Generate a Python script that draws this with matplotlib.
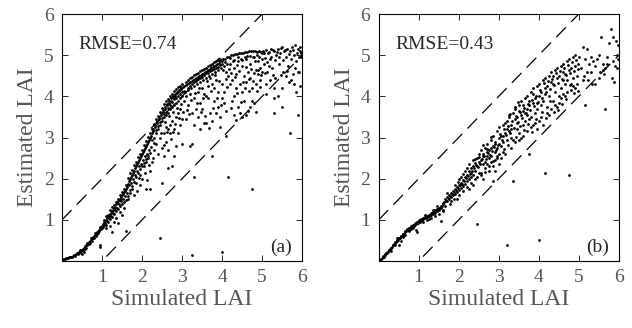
import numpy as np
import matplotlib
matplotlib.use("Agg")
import matplotlib.pyplot as plt

plt.rcParams['font.family'] = ['Liberation Serif', 'DejaVu Serif']

# panel (a): simulated vs estimated LAI
pts_a = [
    (0.02, 0.05), (0.05, 0.06), (0.08, 0.06), (0.1, 0.07), (0.13, 0.08), (0.15, 0.08), (0.18, 0.09),
    (0.2, 0.1), (0.22, 0.1), (0.25, 0.11), (0.28, 0.13), (0.3, 0.14), (0.32, 0.15), (0.35, 0.17),
    (0.38, 0.19), (0.4, 0.2), (0.42, 0.22), (0.45, 0.24), (0.47, 0.2), (0.48, 0.26), (0.5, 0.28),
    (0.52, 0.3), (0.55, 0.33), (0.57, 0.3), (0.58, 0.36), (0.6, 0.38), (0.62, 0.4), (0.65, 0.44),
    (0.67, 0.41), (0.68, 0.47), (0.7, 0.5), (0.72, 0.52), (0.74, 0.48), (0.75, 0.56), (0.77, 0.58),
    (0.78, 0.55), (0.8, 0.62), (0.82, 0.64), (0.84, 0.6), (0.85, 0.68), (0.87, 0.7), (0.88, 0.66),
    (0.9, 0.74), (0.92, 0.76), (0.93, 0.72), (0.95, 0.8), (0.97, 0.82), (0.98, 0.78), (1.0, 0.86),
    (0.96, 0.4), (0.95, 0.35),
    (1.02, 0.9), (1.04, 0.88), (1.05, 0.95), (1.07, 0.97), (1.08, 0.92), (1.1, 1.0), (1.12, 1.04),
    (1.13, 0.98), (1.15, 1.08), (1.17, 1.1), (1.18, 1.05), (1.2, 1.15), (1.22, 1.18), (1.23, 1.1),
    (1.25, 1.22), (1.27, 1.25), (1.28, 1.18), (1.3, 1.3), (1.32, 1.32), (1.33, 1.25), (1.35, 1.38),
    (1.37, 1.4), (1.38, 1.3), (1.4, 1.45), (1.42, 1.48), (1.43, 1.38), (1.45, 1.52), (1.47, 1.55),
    (1.48, 1.45), (1.5, 1.6), (1.52, 1.63), (1.53, 1.5), (1.55, 1.68), (1.57, 1.7), (1.58, 1.58),
    (1.6, 1.75), (1.62, 1.8), (1.63, 1.65), (1.25, 0.7), (1.6, 0.72), (1.3, 0.95), (1.45, 1.2),
    (1.55, 1.3), (1.2, 0.85), (1.1, 0.8), (1.65, 1.5),
    (1.65, 1.88), (1.67, 1.95), (1.68, 1.85), (1.7, 2.0), (1.72, 2.05), (1.73, 1.9), (1.75, 2.1),
    (1.77, 2.15), (1.78, 2.0), (1.8, 2.2), (1.82, 2.25), (1.83, 2.1), (1.85, 2.3), (1.87, 2.35),
    (1.88, 2.2), (1.9, 2.4), (1.92, 2.45), (1.93, 2.3), (1.95, 2.5), (1.97, 2.55), (1.98, 2.35),
    (2.0, 2.6), (2.02, 2.65), (2.03, 2.45), (2.05, 2.7), (2.07, 2.75), (2.08, 2.55), (2.1, 2.8),
    (2.12, 2.85), (2.13, 2.6), (2.15, 2.9), (2.17, 2.95), (2.18, 2.7), (2.2, 3.0), (1.75, 1.75),
    (1.85, 1.9), (1.95, 2.1), (2.05, 2.3), (2.1, 2.4), (2.15, 2.5), (1.8, 1.6), (2.0, 2.0),
    (1.95, 1.85), (2.1, 1.75), (2.2, 1.75), (2.2, 2.2), (2.25, 2.4), (1.7, 1.65),
    (2.22, 3.05), (2.24, 3.1), (2.25, 2.95), (2.27, 3.15), (2.28, 3.2), (2.3, 3.0), (2.32, 3.25),
    (2.33, 3.3), (2.35, 3.1), (2.37, 3.35), (2.38, 3.4), (2.4, 3.2), (2.42, 3.45), (2.43, 3.5),
    (2.45, 3.3), (2.47, 3.55), (2.48, 3.6), (2.5, 3.4), (2.52, 3.62), (2.53, 3.68), (2.55, 3.5),
    (2.57, 3.7), (2.58, 3.75), (2.6, 3.55), (2.62, 3.78), (2.63, 3.82), (2.65, 3.6), (2.67, 3.85),
    (2.68, 3.88), (2.7, 3.7), (2.72, 3.9), (2.73, 3.95), (2.75, 3.75), (2.77, 3.98), (2.78, 4.0),
    (2.8, 3.8), (2.82, 4.02), (2.83, 4.05), (2.85, 3.85), (2.87, 4.08), (2.88, 4.1), (2.9, 3.9),
    (2.92, 4.12), (2.93, 4.15), (2.95, 3.95), (2.97, 4.18), (2.98, 4.2), (3.0, 4.0),
    (2.3, 2.7), (2.35, 2.85), (2.4, 2.6), (2.45, 3.0), (2.5, 2.75), (2.5, 1.9), (2.55, 3.1),
    (2.6, 2.9), (2.65, 3.2), (2.7, 3.1), (2.7, 3.3), (2.75, 2.3), (2.75, 3.4), (2.8, 2.55),
    (2.8, 3.2), (2.85, 3.5), (2.9, 3.1), (2.9, 3.6), (2.95, 3.3), (2.95, 3.7), (3.0, 3.45),
    (3.0, 2.85), (2.6, 3.25), (2.55, 2.55), (2.65, 2.25), (2.85, 2.8),
    (3.02, 4.22), (3.05, 4.25), (3.07, 4.1), (3.1, 4.28), (3.12, 4.3), (3.15, 4.15), (3.17, 4.32),
    (3.2, 4.35), (3.22, 4.2), (3.25, 4.38), (3.27, 4.4), (3.3, 4.25), (3.32, 4.42), (3.35, 4.45),
    (3.37, 4.3), (3.4, 4.48), (3.42, 4.5), (3.45, 4.35), (3.47, 4.52), (3.5, 4.55), (3.52, 4.4),
    (3.55, 4.58), (3.57, 4.6), (3.6, 4.45), (3.62, 4.62), (3.65, 4.65), (3.67, 4.5), (3.7, 4.67),
    (3.72, 4.7), (3.75, 4.55), (3.77, 4.72), (3.8, 4.75), (3.82, 4.6), (3.85, 4.77), (3.87, 4.8),
    (3.9, 4.65), (3.92, 4.82), (3.95, 4.85), (3.97, 4.7), (4.0, 4.87),
    (3.05, 3.9), (3.1, 4.0), (3.15, 3.8), (3.2, 4.05), (3.25, 3.6), (3.3, 3.95), (3.35, 3.7),
    (3.4, 4.1), (3.45, 3.85), (3.5, 4.2), (3.55, 3.35), (3.6, 4.0), (3.65, 4.25), (3.7, 3.6),
    (3.75, 4.3), (3.8, 3.9), (3.85, 4.4), (3.9, 4.1), (3.95, 3.5), (4.0, 4.3), (3.1, 3.45),
    (3.2, 2.8), (3.25, 2.85), (3.3, 3.3), (3.4, 3.5), (3.5, 3.7), (3.6, 3.35), (3.65, 3.95),
    (3.75, 3.4), (3.8, 4.2), (3.9, 3.75), (3.95, 3.25), (4.0, 3.95), (3.3, 2.05), (3.75, 2.55),
    (3.45, 3.2), (3.55, 4.05), (3.7, 4.45), (3.85, 3.6),
    (4.02, 4.9), (4.05, 4.75), (4.08, 4.92), (4.1, 4.6), (4.12, 4.95), (4.15, 4.5), (4.18, 4.97),
    (4.2, 4.8), (4.22, 5.0), (4.25, 4.4), (4.28, 5.0), (4.3, 4.7), (4.32, 5.02), (4.35, 4.55),
    (4.38, 5.03), (4.4, 4.85), (4.42, 5.05), (4.45, 4.3), (4.48, 5.05), (4.5, 4.75), (4.52, 5.05),
    (4.55, 4.5), (4.58, 5.08), (4.6, 4.9), (4.62, 5.08), (4.65, 4.6), (4.68, 5.1), (4.7, 4.8),
    (4.72, 5.1), (4.75, 4.2), (4.78, 5.1), (4.8, 4.95), (4.82, 5.1), (4.85, 4.65), (4.88, 5.08),
    (4.9, 4.85), (4.92, 5.1), (4.95, 4.7), (4.98, 5.08), (5.0, 4.9),
    (4.05, 4.1), (4.1, 3.65), (4.1, 3.05), (4.15, 2.05), (4.2, 4.3), (4.25, 3.9), (4.3, 3.55),
    (4.35, 4.2), (4.4, 3.75), (4.45, 3.6), (4.5, 4.1), (4.55, 3.9), (4.6, 4.35), (4.65, 3.65),
    (4.7, 4.45), (4.75, 3.9), (4.75, 1.75), (4.8, 3.85), (4.85, 4.3), (4.9, 4.55), (4.95, 4.4),
    (5.0, 4.6), (4.3, 4.0), (4.5, 3.5), (4.7, 3.75), (4.6, 3.55),
    (5.02, 5.1), (5.05, 4.8), (5.1, 5.12), (5.12, 4.6), (5.15, 5.05), (5.2, 4.9), (5.22, 5.15),
    (5.25, 4.7), (5.3, 5.1), (5.32, 4.45), (5.35, 5.0), (5.4, 5.15), (5.42, 4.8), (5.45, 5.05),
    (5.5, 5.2), (5.52, 4.6), (5.55, 5.1), (5.6, 4.95), (5.62, 5.15), (5.65, 4.75), (5.7, 5.1),
    (5.72, 4.4), (5.75, 5.2), (5.8, 5.0), (5.82, 5.25), (5.85, 4.85), (5.9, 5.15), (5.92, 4.6),
    (5.95, 5.1), (5.97, 5.05), (5.98, 4.95), (5.1, 4.3), (5.2, 4.4), (5.3, 4.2), (5.5, 4.2),
    (5.6, 4.5), (5.8, 4.3), (5.9, 4.6), (5.95, 4.25), (5.3, 3.6), (5.5, 3.75), (5.3, 3.95),
    (5.7, 3.1), (5.9, 3.55), (5.85, 4.1), (5.4, 4.0), (5.1, 4.05),
    (2.45, 0.55), (3.25, 0.15), (4.0, 0.22),
]

# more points (a)
more_a = [
    (0.33, 0.13), (0.41, 0.18), (0.46, 0.27), (0.53, 0.27), (0.59, 0.33), (0.63, 0.43), (0.69, 0.43),
    (0.73, 0.55), (0.79, 0.57), (0.83, 0.69), (0.86, 0.63), (0.91, 0.69), (0.94, 0.83), (0.99, 0.81),
    (0.56, 0.22), (0.49, 0.18),
    (1.03, 0.83), (1.06, 1.01), (1.09, 0.87), (1.11, 1.09), (1.14, 0.94), (1.16, 1.13), (1.19, 1.02),
    (1.21, 1.24), (1.24, 1.07), (1.26, 1.31), (1.29, 1.14), (1.31, 1.36), (1.34, 1.21), (1.36, 1.44),
    (1.39, 1.26), (1.41, 1.52), (1.44, 1.33), (1.46, 1.61), (1.49, 1.39), (1.51, 1.67), (1.54, 1.43),
    (1.56, 1.76), (1.59, 1.49), (1.61, 1.86), (1.64, 1.58), (1.66, 2.02), (1.69, 1.73), (1.36, 1.05),
    (1.51, 1.12), (1.41, 0.92),
    (1.71, 2.13), (1.74, 1.82), (1.76, 2.21), (1.79, 1.93), (1.81, 2.33), (1.84, 2.04), (1.86, 2.41),
    (1.89, 2.13), (1.91, 2.52), (1.94, 2.24), (1.96, 2.61), (1.99, 2.31), (2.01, 2.71), (2.04, 2.38),
    (2.06, 2.81), (2.09, 2.47), (2.11, 2.92), (2.14, 2.55), (2.16, 3.02), (2.19, 2.63), (2.21, 3.12),
    (2.23, 2.78), (2.26, 3.21), (2.29, 2.86), (1.92, 2.03), (2.08, 2.13), (2.18, 2.33), (2.27, 2.51),
    (2.12, 1.96), (1.87, 1.71),
    (2.31, 3.34), (2.34, 3.18), (2.36, 3.44), (2.39, 3.27), (2.41, 3.53), (2.44, 3.38), (2.46, 3.63),
    (2.49, 3.47), (2.51, 3.71), (2.54, 3.58), (2.56, 3.81), (2.59, 3.63), (2.61, 3.88), (2.64, 3.71),
    (2.66, 3.93), (2.69, 3.79), (2.71, 4.01), (2.74, 3.86), (2.76, 4.07), (2.79, 3.93), (2.81, 4.12),
    (2.84, 3.96), (2.86, 4.17), (2.89, 4.02), (2.91, 4.23), (2.94, 4.07), (2.96, 4.26), (2.99, 4.11),
    (3.01, 4.31), (3.04, 4.13), (2.48, 3.12), (2.58, 3.37), (2.68, 3.52), (2.78, 3.63), (2.88, 3.72),
    (2.98, 3.81), (2.62, 3.13), (2.72, 2.96), (2.93, 3.48), (3.03, 3.62), (2.82, 3.33), (2.56, 2.83),
    (2.66, 2.71), (2.77, 3.14),
    (3.11, 4.36), (3.14, 4.21), (3.16, 4.41), (3.19, 4.26), (3.21, 4.44), (3.24, 4.31), (3.26, 4.47),
    (3.29, 4.34), (3.31, 4.51), (3.34, 4.37), (3.36, 4.54), (3.39, 4.42), (3.41, 4.57), (3.44, 4.45),
    (3.46, 4.61), (3.49, 4.48), (3.51, 4.63), (3.54, 4.51), (3.56, 4.67), (3.59, 4.56), (3.61, 4.69),
    (3.64, 4.58), (3.66, 4.73), (3.69, 4.61), (3.71, 4.76), (3.74, 4.64), (3.76, 4.78), (3.79, 4.67),
    (3.81, 4.83), (3.84, 4.69), (3.86, 4.85), (3.89, 4.72), (3.91, 4.88), (3.94, 4.76), (3.96, 4.91),
    (3.99, 4.79), (3.13, 3.68), (3.23, 3.92), (3.33, 4.08), (3.43, 4.21), (3.53, 3.96), (3.63, 4.37),
    (3.73, 4.12), (3.83, 4.52), (3.93, 4.38), (3.37, 3.83), (3.57, 3.52), (3.67, 3.23), (3.87, 3.95),
    (3.98, 3.78), (3.18, 3.58), (3.48, 3.61), (3.78, 3.71),
    (4.03, 4.63), (4.07, 4.84), (4.11, 4.42), (4.13, 4.79), (4.17, 4.66), (4.21, 4.93), (4.23, 4.58),
    (4.27, 4.86), (4.31, 4.89), (4.33, 4.47), (4.37, 4.76), (4.41, 4.97), (4.43, 4.62), (4.47, 4.91),
    (4.51, 4.88), (4.53, 4.34), (4.57, 4.96), (4.61, 4.72), (4.63, 4.99), (4.67, 4.43), (4.71, 4.98),
    (4.73, 4.67), (4.77, 4.95), (4.81, 4.58), (4.83, 4.86), (4.87, 5.0), (4.91, 4.64), (4.93, 4.97),
    (4.97, 4.52), (4.99, 5.06), (4.13, 4.23), (4.23, 3.72), (4.38, 4.08), (4.48, 3.87), (4.58, 4.21),
    (4.68, 4.13), (4.78, 4.38), (4.88, 4.12), (4.96, 4.23), (4.06, 3.83), (4.36, 3.42), (4.84, 3.62),
    (5.04, 5.05), (5.08, 4.93), (5.13, 4.83), (5.17, 5.08), (5.23, 4.97), (5.27, 5.13), (5.33, 4.88),
    (5.38, 5.07), (5.43, 4.97), (5.47, 5.17), (5.53, 4.88), (5.58, 5.13), (5.63, 4.62), (5.67, 5.03),
    (5.73, 4.9), (5.78, 5.12), (5.83, 4.7), (5.88, 5.05), (5.93, 4.95), (5.96, 5.2), (5.07, 4.58),
    (5.18, 4.73), (5.28, 4.53), (5.48, 4.53), (5.68, 4.35), (5.78, 4.55),
]

# panel (b)
pts_b = [
    (0.02, 0.02), (0.05, 0.05), (0.08, 0.08), (0.1, 0.1), (0.12, 0.13), (0.15, 0.15), (0.17, 0.18),
    (0.2, 0.2), (0.22, 0.22), (0.25, 0.26), (0.27, 0.28), (0.3, 0.32), (0.32, 0.33), (0.35, 0.38),
    (0.37, 0.4), (0.4, 0.45), (0.42, 0.47), (0.45, 0.5), (0.47, 0.52), (0.5, 0.55), (0.52, 0.57),
    (0.55, 0.6), (0.57, 0.62), (0.6, 0.65), (0.62, 0.67), (0.65, 0.7), (0.67, 0.72), (0.7, 0.75),
    (0.72, 0.77), (0.75, 0.8), (0.77, 0.8), (0.8, 0.83), (0.82, 0.85), (0.85, 0.87), (0.87, 0.88),
    (0.9, 0.9), (0.92, 0.92), (0.95, 0.94), (0.97, 0.95), (1.0, 0.97), (0.5, 0.4), (0.45, 0.55),
    (0.6, 0.58), (0.75, 0.72), (0.85, 0.8), (0.95, 0.7), (0.93, 0.75), (0.3, 0.25), (0.55, 0.5),
    (0.65, 0.63),
    (1.02, 1.0), (1.05, 1.02), (1.07, 0.98), (1.1, 1.05), (1.12, 1.03), (1.15, 1.08), (1.17, 1.05),
    (1.2, 1.1), (1.22, 1.08), (1.25, 1.13), (1.27, 1.1), (1.3, 1.16), (1.32, 1.12), (1.35, 1.2),
    (1.37, 1.15), (1.4, 1.23), (1.42, 1.18), (1.45, 1.27), (1.47, 1.22), (1.5, 1.3), (1.52, 1.25),
    (1.55, 1.35), (1.57, 1.28), (1.6, 1.38), (1.1, 0.95), (1.2, 1.0), (1.3, 1.05), (1.4, 1.1),
    (1.55, 0.98), (1.5, 1.15), (1.6, 1.25), (1.15, 1.12), (1.35, 1.25), (1.45, 1.33),
    (1.62, 1.42), (1.65, 1.5), (1.67, 1.35), (1.7, 1.55), (1.72, 1.45), (1.75, 1.6), (1.77, 1.5),
    (1.8, 1.65), (1.82, 1.55), (1.85, 1.7), (1.87, 1.6), (1.9, 1.75), (1.92, 1.62), (1.95, 1.8),
    (1.97, 1.68), (2.0, 1.85), (2.02, 1.72), (2.05, 1.9), (2.07, 1.78), (2.1, 1.98), (2.12, 1.82),
    (2.15, 2.05), (2.17, 1.88), (2.2, 2.1), (2.22, 1.95), (2.25, 2.2), (2.27, 2.0), (2.3, 2.25),
    (2.32, 2.05), (2.35, 2.3), (2.37, 2.1), (2.4, 2.38), (1.7, 1.65), (1.8, 1.45), (1.9, 1.85),
    (2.0, 1.6), (2.05, 2.05), (2.1, 1.7), (2.15, 2.2), (2.2, 1.8), (2.25, 2.35), (2.3, 1.9),
    (2.35, 2.45), (2.4, 2.0), (2.0, 2.0), (2.1, 2.12), (2.3, 2.15), (2.2, 2.25), (1.95, 1.5),
    (2.25, 1.75), (2.35, 1.85),
    (2.42, 2.2), (2.45, 2.5), (2.47, 2.3), (2.5, 2.6), (2.52, 2.15), (2.55, 2.45), (2.57, 2.7),
    (2.6, 2.35), (2.62, 2.55), (2.65, 2.75), (2.67, 2.4), (2.7, 2.65), (2.72, 2.85), (2.75, 2.5),
    (2.77, 2.7), (2.8, 2.95), (2.82, 2.55), (2.85, 2.8), (2.87, 3.05), (2.9, 2.65), (2.92, 2.9),
    (2.95, 3.15), (2.97, 2.75), (3.0, 3.0), (3.02, 3.25), (3.05, 2.8), (3.07, 3.05), (3.1, 3.3),
    (3.12, 2.9), (3.15, 3.1), (3.17, 3.35), (3.2, 2.95), (2.45, 2.05), (2.55, 2.15), (2.6, 2.0),
    (2.65, 2.25), (2.7, 2.35), (2.75, 2.2), (2.8, 2.4), (2.85, 2.3), (2.9, 2.45), (2.95, 2.55),
    (3.0, 2.6), (3.05, 2.5), (3.1, 2.65), (3.15, 2.6), (2.5, 2.4), (2.6, 2.6), (2.7, 2.55),
    (2.8, 2.75), (2.9, 2.85), (3.0, 2.85), (3.1, 3.05), (3.2, 3.2), (2.85, 1.95), (2.9, 2.2),
    (3.0, 2.35),
    (3.22, 3.4), (3.25, 3.15), (3.27, 3.55), (3.3, 3.0), (3.32, 3.3), (3.35, 3.6), (3.37, 2.95),
    (3.4, 3.45), (3.42, 3.7), (3.45, 3.2), (3.47, 3.5), (3.5, 3.8), (3.52, 3.1), (3.55, 3.55),
    (3.57, 3.9), (3.6, 3.3), (3.62, 3.65), (3.65, 3.95), (3.67, 3.4), (3.7, 3.7), (3.72, 4.0),
    (3.75, 3.45), (3.77, 3.8), (3.8, 4.1), (3.82, 3.5), (3.85, 3.85), (3.87, 4.2), (3.9, 3.6),
    (3.92, 3.95), (3.95, 4.25), (3.97, 3.7), (4.0, 4.0), (3.3, 2.75), (3.35, 1.95), (3.4, 2.9),
    (3.5, 2.95), (3.55, 3.0), (3.6, 3.05), (3.7, 3.15), (3.75, 2.6), (3.8, 3.25), (3.85, 3.3),
    (3.9, 3.35), (3.95, 3.2), (3.25, 3.5), (3.4, 3.75), (3.45, 3.35), (3.6, 3.8), (3.65, 3.6),
    (3.75, 3.9), (3.85, 4.05), (3.95, 3.85), (3.7, 3.55), (3.5, 3.65), (3.3, 3.2),
    (4.02, 4.3), (4.05, 3.8), (4.07, 4.1), (4.1, 4.4), (4.12, 3.9), (4.15, 4.2), (4.17, 4.45),
    (4.2, 3.75), (4.22, 4.25), (4.25, 4.5), (4.27, 4.0), (4.3, 4.35), (4.32, 4.6), (4.35, 3.9),
    (4.37, 4.3), (4.4, 4.65), (4.42, 4.1), (4.45, 4.45), (4.47, 4.7), (4.5, 4.0), (4.52, 4.5),
    (4.55, 4.75), (4.57, 4.2), (4.6, 4.6), (4.62, 4.8), (4.65, 4.3), (4.67, 4.55), (4.7, 4.85),
    (4.72, 4.4), (4.75, 4.65), (4.77, 4.9), (4.8, 4.3), (4.82, 4.7), (4.85, 4.95), (4.87, 4.45),
    (4.9, 4.75), (4.92, 5.0), (4.95, 4.5), (4.97, 4.8), (5.0, 4.95), (4.05, 3.5), (4.1, 3.3),
    (4.15, 2.15), (4.2, 3.6), (4.3, 3.7), (4.4, 3.8), (4.5, 3.85), (4.55, 3.95), (4.6, 4.05),
    (4.7, 4.1), (4.75, 2.1), (4.8, 4.15), (4.9, 4.2), (4.0, 3.4), (4.25, 3.55), (4.45, 3.75),
    (4.65, 4.0), (4.85, 4.25), (4.95, 4.3), (4.35, 4.5), (4.6, 4.4), (4.15, 4.05),
    (5.05, 4.7), (5.1, 5.2), (5.12, 4.5), (5.15, 4.9), (5.2, 5.15), (5.22, 4.4), (5.25, 4.8),
    (5.3, 4.95), (5.32, 4.3), (5.35, 4.85), (5.4, 4.75), (5.45, 4.9), (5.5, 5.0), (5.52, 4.6),
    (5.55, 5.45), (5.6, 4.8), (5.62, 4.55), (5.65, 4.7), (5.7, 4.95), (5.75, 5.3), (5.8, 5.65),
    (5.82, 4.45), (5.85, 5.45), (5.88, 4.35), (5.9, 4.75), (5.92, 5.35), (5.95, 5.0), (5.97, 5.25),
    (5.98, 4.9), (5.2, 4.6), (5.4, 4.3), (5.6, 4.65), (5.15, 3.78), (5.65, 3.7), (5.1, 4.4),
    (5.3, 4.6), (5.5, 4.45), (5.7, 4.8), (5.85, 4.85), (5.95, 4.7),
    (2.45, 0.9), (3.2, 0.4), (4.0, 0.52),
]

more_b = [
    (0.07, 0.06), (0.13, 0.11), (0.19, 0.19), (0.24, 0.23), (0.29, 0.3), (0.34, 0.35), (0.39, 0.42),
    (0.44, 0.46), (0.49, 0.51), (0.54, 0.56), (0.59, 0.61), (0.64, 0.66), (0.69, 0.72), (0.74, 0.76),
    (0.79, 0.79), (0.84, 0.84), (0.89, 0.86), (0.94, 0.9), (0.99, 0.93), (0.42, 0.39), (0.62, 0.6),
    (0.81, 0.78),
    (1.04, 0.96), (1.09, 1.01), (1.14, 1.04), (1.19, 1.07), (1.24, 1.1), (1.29, 1.12), (1.34, 1.16),
    (1.39, 1.19), (1.44, 1.24), (1.49, 1.26), (1.54, 1.29), (1.59, 1.33), (1.64, 1.44), (1.69, 1.47),
    (1.74, 1.53), (1.79, 1.58), (1.84, 1.63), (1.89, 1.68), (1.94, 1.72), (1.99, 1.77), (1.27, 1.03),
    (1.62, 1.21), (1.78, 1.38), (1.88, 1.52), (1.98, 1.93),
    (2.04, 1.84), (2.09, 1.88), (2.14, 1.94), (2.19, 2.01), (2.24, 2.07), (2.29, 2.12), (2.34, 2.19),
    (2.39, 2.27), (2.44, 2.33), (2.49, 2.28), (2.54, 2.37), (2.59, 2.49), (2.64, 2.55), (2.69, 2.47),
    (2.74, 2.63), (2.79, 2.58), (2.84, 2.67), (2.89, 2.77), (2.94, 2.69), (2.99, 2.81), (2.57, 2.08),
    (2.67, 2.17), (2.77, 2.31), (2.87, 2.43), (2.97, 2.51), (2.42, 2.48), (2.62, 2.83), (2.82, 3.01),
    (2.52, 2.52), (2.72, 2.73),
    (3.04, 3.08), (3.09, 2.94), (3.14, 3.21), (3.19, 3.07), (3.24, 3.28), (3.29, 3.12), (3.34, 3.41),
    (3.39, 3.24), (3.44, 3.52), (3.49, 3.37), (3.54, 3.62), (3.59, 3.48), (3.64, 3.72), (3.69, 3.59),
    (3.74, 3.82), (3.79, 3.66), (3.84, 3.92), (3.89, 3.77), (3.94, 4.02), (3.99, 3.87), (3.13, 2.72),
    (3.23, 2.81), (3.43, 3.02), (3.63, 3.18), (3.83, 3.14), (3.93, 3.45), (3.53, 3.27), (3.73, 3.33),
    (3.28, 3.58), (3.48, 3.86),
    (4.04, 4.16), (4.09, 3.96), (4.14, 4.33), (4.19, 4.11), (4.24, 4.37), (4.29, 4.19), (4.34, 4.42),
    (4.39, 4.27), (4.44, 4.56), (4.49, 4.33), (4.54, 4.61), (4.59, 4.43), (4.64, 4.69), (4.69, 4.51),
    (4.74, 4.77), (4.79, 4.56), (4.84, 4.83), (4.89, 4.62), (4.94, 4.88), (4.99, 4.67), (4.08, 3.62),
    (4.28, 3.88), (4.48, 3.68), (4.68, 3.93), (4.88, 4.08), (4.38, 3.62), (4.58, 3.82), (4.78, 4.27),
    (4.18, 3.48), (4.98, 4.13),
]

panels = [(pts_a + more_a, 'RMSE=0.74', '(a)'), (pts_b + more_b, 'RMSE=0.43', '(b)')]
ticks = [1, 2, 3, 4, 5, 6]
band = [0, 6]

fig = plt.figure(figsize=(6.32, 3.28), dpi=100)
lefts = [0.098, 0.599]

for left, (pts, rmse, tag) in zip(lefts, panels):
    ax = fig.add_axes([left, 0.204, 0.380, 0.753])
    sim, est = np.array(pts).T
    ax.scatter(sim, est, s=4, c='black', linewidths=0, zorder=3)
    # +/- 1 LAI envelope
    ax.plot(band, [b + 1 for b in band], color='black', lw=0.9, dashes=(11, 6))
    ax.plot(band, [b - 1 for b in band], color='black', lw=0.9, dashes=(11, 6))
    ax.set_xlim(0, 6)
    ax.set_ylim(0, 6)
    ax.set_xticks(ticks)
    ax.set_yticks(ticks)
    ax.tick_params(direction='in', length=4, width=0.6, top=True, right=True,
                   labelsize=14, labelcolor='#555555', pad=6)
    for sp in ax.spines.values():
        sp.set_linewidth(0.8)
    ax.set_xlabel('Simulated LAI', fontsize=17, color='#555555', labelpad=2)
    ax.set_ylabel('Estimated LAI', fontsize=17, color='#555555', labelpad=4)
    ax.text(0.42, 5.25, rmse, fontsize=14, color='#262626', va='center')
    ax.text(5.75, 0.34, tag, fontsize=14, color='#262626', va='center', ha='right')

plt.savefig('out.png', dpi=100)
